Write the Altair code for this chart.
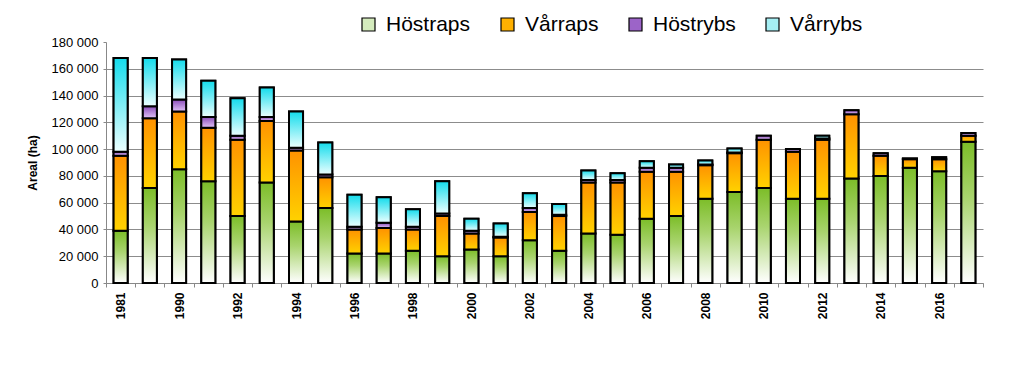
import altair as alt
import pandas as pd

years = ["1981", "1985", "1990", "1991", "1992", "1993", "1994", "1995", "1996", "1997",
         "1998", "1999", "2000", "2001", "2002", "2003", "2004", "2005", "2006", "2007",
         "2008", "2009", "2010", "2011", "2012", "2013", "2014", "2015", "2016", "2017"]
shown_labels = years[0::2]

series = ["Höstraps", "Vårraps", "Höstrybs", "Vårrybs"]

hostraps = [39000, 71000, 85000, 76000, 50000, 75000, 46000, 56000, 22000, 22000,
            24000, 20000, 25000, 20000, 32000, 24000, 37000, 36000, 48000, 50000,
            63000, 68000, 71000, 63000, 63000, 78000, 80000, 86000, 83500, 105500]
varraps = [56000, 52000, 43000, 40000, 57000, 46000, 53000, 23000, 18000, 19000,
           16000, 30000, 12000, 14000, 21000, 26000, 38000, 39000, 35000, 33000,
           25000, 29000, 36000, 35000, 44000, 48000, 15000, 6500, 9000, 4500]
hostrybs = [3000, 9000, 9000, 8000, 3000, 3000, 2000, 2000, 2000, 4000,
            2000, 2000, 2000, 500, 3000, 1000, 2000, 2000, 3000, 3000,
            500, 500, 3000, 2000, 1000, 3000, 2000, 500, 1500, 2000]
varrybs = [70000, 36000, 30000, 27000, 28000, 22000, 27000, 24000, 24000, 19000,
           13000, 24000, 9000, 10000, 11000, 8000, 7000, 5000, 5000, 2500,
           3000, 3000, 0, 0, 2000, 0, 0, 0, 0, 0]

legend_colors = ["#d4ebbd", "#ffb000", "#9c64c8", "#a6eff4"]

gradients = {
    "Höstraps": [("#7cbd28", 0.0), ("#a9d46e", 0.4), ("#ffffff", 1.0)],
    "Vårraps": [("#ff9200", 0.0), ("#ffd200", 1.0)],
    "Höstrybs": [("#8a4cb8", 0.0), ("#e2c4f8", 1.0)],
    "Vårrybs": [("#14dcec", 0.0), ("#ecffff", 1.0)],
}

rows = []
for i, y in enumerate(years):
    acc = 0
    for s, vals in zip(series, [hostraps, varraps, hostrybs, varrybs]):
        v = vals[i]
        rows.append({"year": y, "series": s, "value": v, "start": acc, "end": acc + v})
        acc += v
df = pd.DataFrame(rows)
df = df[df["value"] > 0]

label_list = ",".join("'" + l + "'" for l in shown_labels)

x_enc = alt.X(
    "year:N", sort=years,
    scale=alt.Scale(paddingInner=0, paddingOuter=0),
    axis=alt.Axis(
        title=None, labelAngle=270, labelAlign="right", labelBaseline="middle",
        labelFont="Liberation Sans", labelFontWeight="bold", labelFontSize=12,
        labelColor="#000000", labelPadding=5, tickBand="extent", tickSize=4,
        tickColor="#888888", domainColor="#888888", grid=False,
        labelExpr="indexof([" + label_list + "], datum.value) >= 0 ? datum.label : ''",
    ),
)
y_enc = alt.Y(
    "start:Q",
    scale=alt.Scale(domain=[0, 180000], nice=False),
    axis=alt.Axis(
        title="Areal (ha)", titleFont="Liberation Sans", titleFontWeight="bold",
        titleFontSize=12, titleColor="#000000", titlePadding=12,
        values=list(range(0, 180001, 20000)),
        labelExpr="replace(format(datum.value, ','), ',', ' ')",
        labelFont="Liberation Sans", labelFontSize=13, labelColor="#000000",
        labelPadding=5, tickSize=3, tickColor="#888888", domainColor="#888888",
        gridColor="#8c8c8c",
        gridOpacity={"condition": {"test": "datum.value >= 180000", "value": 0}, "value": 1},
    ),
)

bar_width = alt.RelativeBandSize(0.48)

base = alt.Chart(df).mark_bar(stroke="black", strokeWidth=2, width=bar_width).encode(
    x=x_enc, y=y_enc, y2="end:Q",
    color=alt.Color(
        "series:N", sort=series,
        scale=alt.Scale(domain=series, range=legend_colors),
        legend=alt.Legend(
            title=None, orient="none", direction="horizontal", legendX=252, legendY=-28,
            symbolType="square", symbolSize=169, symbolStrokeColor="black",
            symbolStrokeWidth=1.2, labelFont="Liberation Sans", labelFontSize=21,
            labelColor="#000000", labelOffset=7, columnPadding=26, gridAlign="none",
            labelLimit=300,
        ),
    ),
)

layers = [base]
for s in series:
    grad = alt.Gradient(
        gradient="linear", x1=0, x2=0, y1=0, y2=1,
        stops=[alt.GradientStop(color=c, offset=o) for c, o in gradients[s]],
    )
    layers.append(
        alt.Chart(df).transform_filter(alt.datum.series == s)
        .mark_bar(fill=grad, stroke="black", strokeWidth=2, width=bar_width)
        .encode(x=x_enc, y=y_enc, y2="end:Q")
    )

chart = alt.layer(*layers).properties(
    width=877, height=241,
    autosize=alt.AutoSizeParams(type="none"),
    padding={"left": 98, "top": 34, "right": 20, "bottom": 80},
).configure_view(strokeWidth=0)

chart.save("out.html", embed_options={"renderer": "svg", "actions": False})
